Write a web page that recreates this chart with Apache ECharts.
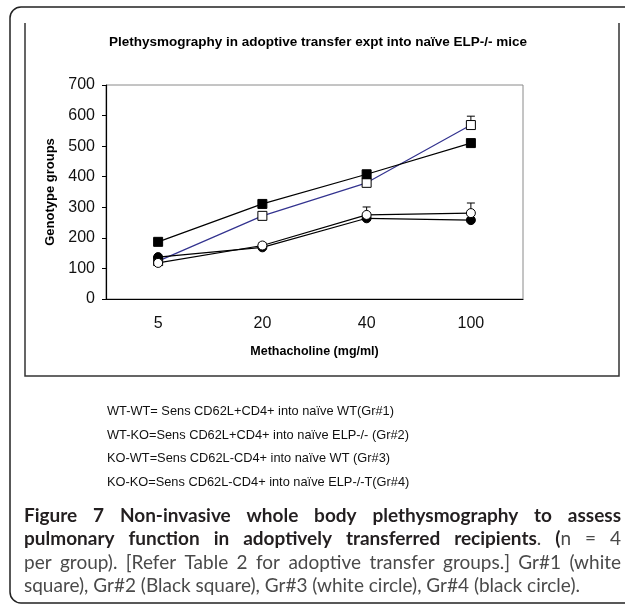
<!DOCTYPE html>
<html>
<head>
<meta charset="utf-8">
<script src="https://cdn.jsdelivr.net/npm/echarts@6/dist/echarts.min.js"></script>
<style>
  html, body { margin: 0; padding: 0; background: #fff; }
  #chart { width: 625px; height: 613px; }
</style>
</head>
<body>
<div id="chart"></div>
<script>
  // methacholine doses (x categories)
  const doses = ['5', '20', '40', '100']
  // group means
  const gr1 = [124, 272, 380, 569] // WT-WT, white square
  const gr2 = [187, 311, 408, 510] // WT-KO, black square
  const gr3 = [118, 175, 275, 281] // KO-WT, white circle
  const gr4 = [137, 169, 264, 258] // KO-KO, black circle
  // upper end of the error bars (null = none visible)
  const gr1Top = [null, 278, 386, 598]
  const gr2Top = [194, 318, 414, 516]
  const gr3Top = [null, 184, 301, 314]
  const gr4Top = [null, 172, 268, 262]

  const chartTitle = 'Plethysmography in adoptive transfer expt into naïve ELP-/- mice'
  const legendLines = [
    'WT-WT= Sens CD62L+CD4+ into naïve WT(Gr#1)',
    'WT-KO=Sens CD62L+CD4+ into naïve ELP-/- (Gr#2)',
    'KO-WT=Sens CD62L-CD4+ into naïve WT (Gr#3)',
    'KO-KO=Sens CD62L-CD4+ into naïve ELP-/-T(Gr#4)'
  ]
  // caption: each line is a list of words, each word a list of [text, bold]
  const captionLines = [
    [[['Figure', 1]], [['7', 1]], [['Non-invasive', 1]], [['whole', 1]], [['body', 1]], [['plethysmography', 1]], [['to', 1]], [['assess', 1]]],
    [[['pulmonary', 1]], [['function', 1]], [['in', 1]], [['adoptively', 1]], [['transferred', 1]], [['recipients', 1], ['.', 0]], [['(', 1], ['n', 0]], [['=', 0]], [['4', 0]]],
    'per group). [Refer Table 2 for adoptive transfer groups.] Gr#1 (white'.split(' ').map(w => [[w, 0]]),
    'square), Gr#2 (Black square), Gr#3 (white circle), Gr#4 (black circle).'.split(' ').map(w => [[w, 0]])
  ]

  const font = 'Liberation Sans, Arial, sans-serif'
  const capFont = 'Lato, "Open Sans", sans-serif'

  function errorData(mean, top) {
    const out = []
    top.forEach((t, i) => { if (t != null) out.push([i, mean[i], t]) })
    return out
  }

  function errorSeries(mean, top) {
    return {
      type: 'custom',
      z: 1,
      silent: true,
      data: errorData(mean, top),
      renderItem: function(params, api) {
        const p0 = api.coord([api.value(0), api.value(1)])
        const p1 = api.coord([api.value(0), api.value(2)])
        const st = { stroke: '#000', lineWidth: 1 }
        return {
          type: 'group',
          children: [
            { type: 'line', shape: { x1: p0[0], y1: p0[1], x2: p1[0], y2: p1[1] }, style: st },
            { type: 'line', shape: { x1: p1[0] - 4, y1: p1[1], x2: p1[0] + 4, y2: p1[1] }, style: st }
          ]
        }
      }
    }
  }

  function lineSeries(name, data, symbol, fill, lineColor) {
    return {
      name: name,
      type: 'line',
      z: 3,
      data: data,
      symbol: symbol,
      symbolSize: 9,
      showAllSymbol: true,
      itemStyle: { color: fill, borderColor: '#000', borderWidth: 1 },
      lineStyle: { color: lineColor, width: 1.2 },
      emphasis: { disabled: true }
    }
  }

  // justified caption -> graphic texts
  function captionGraphics() {
    const ctx = document.createElement('canvas').getContext('2d')
    // size the font so the (unjustified) last line ends where it does in the figure
    ctx.font = '10px ' + capFont
    const lastW = ctx.measureText(captionLines[3].map(w => w[0][0]).join(' ')).width
    const capSize = Math.min(19, 10 * 569 / lastW)
    const fontOf = b => (b ? 'bold ' : '') + capSize.toFixed(2) + 'px ' + capFont
    const measure = (t, b) => { ctx.font = fontOf(b); return ctx.measureText(t).width }
    const left = 24
    const right = 621
    const tops = [518, 541, 565, 588]
    const els = []
    captionLines.forEach((words, li) => {
      const widths = words.map(w => w.reduce((s, r) => s + measure(r[0], r[1]), 0))
      const total = widths.reduce((a, b) => a + b, 0)
      const last = li === captionLines.length - 1
      const gap = last ? measure(' ', 0) : (right - left - total) / (words.length - 1)
      let x = left
      words.forEach(w => {
        w.forEach(r => {
          els.push({
            type: 'text',
            left: x,
            top: tops[li] - capSize / 2 - 2,
            style: {
              text: r[0],
              font: fontOf(r[1]),
              fill: r[1] ? '#231f20' : '#4a4a4a'
            }
          })
          x += measure(r[0], r[1])
        })
        x += gap
      })
    })
    return els
  }

  const myChart = echarts.init(document.getElementById('chart'), null, { renderer: 'canvas' })

  const graphics = [
    {
      type: 'rect',
      shape: { x: 10, y: 7, width: 640, height: 596, r: 11 },
      style: { fill: null, stroke: '#222', lineWidth: 1.5 }
    },
    {
      type: 'polyline',
      shape: { points: [[25, 23], [25, 376], [619, 376], [619, 23]] },
      style: { fill: null, stroke: '#333', lineWidth: 1.5 }
    }
  ]
  legendLines.forEach((t, i) => {
    graphics.push({
      type: 'text',
      left: 107,
      top: 405 + i * 23.5,
      style: { text: t, font: '12.8px ' + font, fill: '#111' }
    })
  })

  myChart.setOption({
    animation: false,
    title: {
      text: chartTitle,
      left: 313,
      textAlign: 'center',
      top: 30,
      textStyle: { fontFamily: font, fontSize: 13.5, fontWeight: 'bold', color: '#000' }
    },
    grid: {
      left: 106,
      right: 102,
      top: 85,
      bottom: 314,
      show: true,
      borderColor: '#8a8a8a',
      borderWidth: 1
    },
    xAxis: {
      type: 'category',
      data: doses,
      boundaryGap: true,
      name: 'Methacholine (mg/ml)',
      nameLocation: 'middle',
      nameGap: 46,
      nameTextStyle: { fontFamily: font, fontSize: 12.5, fontWeight: 'bold', color: '#000' },
      axisLine: { lineStyle: { color: '#000', width: 1.2 } },
      axisTick: { length: 5, lineStyle: { color: '#000' } },
      axisLabel: { margin: 17, fontFamily: font, fontSize: 16, color: '#111' },
      splitLine: { show: false }
    },
    yAxis: {
      type: 'value',
      min: 0,
      max: 700,
      interval: 100,
      name: 'Genotype groups',
      nameLocation: 'middle',
      nameGap: 35,
      nameRotate: 90,
      nameTextStyle: { fontFamily: font, fontSize: 13, fontWeight: 'bold', color: '#000' },
      axisLine: { show: true, lineStyle: { color: '#000', width: 1.2 } },
      axisTick: { show: true, length: 4, lineStyle: { color: '#000' } },
      axisLabel: { margin: 11, fontFamily: font, fontSize: 16, color: '#111' },
      splitLine: { show: false }
    },
    series: [
      errorSeries(gr1, gr1Top),
      errorSeries(gr2, gr2Top),
      errorSeries(gr3, gr3Top),
      errorSeries(gr4, gr4Top),
      lineSeries('Gr#1', gr1, 'rect', '#fff', '#33338f'),
      lineSeries('Gr#2', gr2, 'rect', '#000', '#000'),
      lineSeries('Gr#4', gr4, 'circle', '#000', '#000'),
      lineSeries('Gr#3', gr3, 'circle', '#fff', '#000')
    ],
    graphic: graphics.concat(captionGraphics())
  })
</script>
</body>
</html>
